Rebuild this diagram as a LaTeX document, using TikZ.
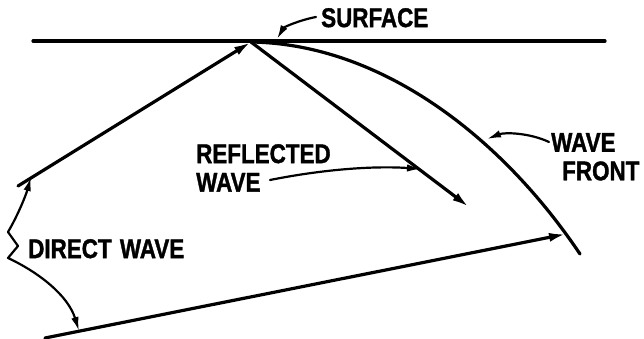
\documentclass[tikz,border=0pt]{standalone}
\usepackage{fontspec}
\setmainfont{Liberation Sans}[BoldFeatures={FakeBold=1.5}]
\usetikzlibrary{arrows.meta}
\newcommand\narrowtxt[1]{\scalebox{0.83}[1]{#1}}
\begin{document}
\begin{tikzpicture}[x=1pt,y=-1pt,
  ray/.style={line width=3.2pt, line cap=round},
  lead/.style={line width=2.2pt, line cap=round},
  raytip/.style={-{Latex[length=17pt,width=9pt]}},
  leadtip/.style={-{Latex[length=14pt,width=7.5pt]}},
  lbl/.style={font=\fontsize{27}{28.5}\selectfont\bfseries, inner sep=0pt, anchor=north west, align=left}]
\useasboundingbox (0,0) rectangle (644,339);
% key points
\coordinate (sl) at (33,41);
\coordinate (sr) at (605,41);
\coordinate (apex) at (251,42);
\coordinate (d1) at (18,186);
\coordinate (d2) at (45,338);
\coordinate (fr) at (566,234);
\coordinate (rend) at (469,207);
\coordinate (wfe) at (580,254);
% surface
\draw[ray] (sl) -- (sr);
% rays
\draw[ray,raytip] (d1) -- (apex);
\draw[ray,raytip] (apex) -- (rend);
\draw[ray,raytip] (d2) -- (fr);
% wave front
\draw[ray] (apex) .. controls (380,44) and (500,135) .. (wfe);
% labels
\node[lbl] (surf) at (321,8) {\narrowtxt{SURFACE}};
\node[lbl] (refl) at (196,144) {\narrowtxt{REFLECTED}\\\narrowtxt{WAVE}};
\node[lbl] (front) at (551,133) {\narrowtxt{WAVE}\\\hspace*{11pt}\narrowtxt{FRONT}};
\node[lbl] (direct) at (28,239) {\narrowtxt{DIRECT\hspace{10pt}WAVE}};
% leader points
\coordinate (sA) at (316,17);
\coordinate (sB) at (277,39);
\coordinate (rA) at (270,180);
\coordinate (rB) at (421,169);
\coordinate (fA) at (549,142);
\coordinate (fB) at (487,139);
\coordinate (zz) at (18,246);
\coordinate (zu) at (8,232);
\coordinate (zl) at (8,258);
\coordinate (dU) at (31,177);
\coordinate (dL) at (79,331);
% leaders
\draw[lead,leadtip] (sA) .. controls (300,20) and (284,27) .. (sB);
\draw[lead,leadtip] (rA) .. controls (330,168) and (380,166) .. (rB);
\draw[lead,leadtip] (fA) .. controls (530,133) and (505,132) .. (fB);
\draw[lead,leadtip,line join=round] (zz) -- (zu) .. controls (18,215) and (26,195) .. (dU);
\draw[lead,leadtip,line join=round] (zz) -- (zl) .. controls (38,272) and (68,295) .. (dL);
\end{tikzpicture}
\end{document}
